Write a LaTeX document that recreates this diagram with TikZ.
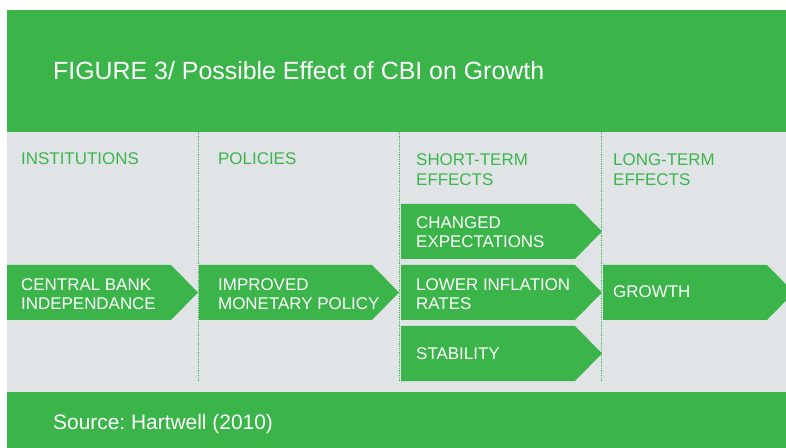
\documentclass[tikz,border=0pt]{standalone}
\usepackage{fontspec}
\setmainfont{Liberation Sans}
\frenchspacing
\definecolor{cbgreen}{HTML}{3BB54A}
\definecolor{panelgray}{HTML}{E1E4E7}
\definecolor{rulegreen}{HTML}{4DBA5B}

\begin{document}
\begin{tikzpicture}[
  x=1bp, y=-1bp,
  flowtext/.style={anchor=base west, inner sep=0pt, text=white, align=left,
    font=\fontsize{17}{20}\selectfont},
  headtext/.style={flowtext, text=cbgreen, font=\fontsize{17}{21}\selectfont},
  colrule/.style={rulegreen, line width=0.9bp, dash pattern=on 0.9bp off 0.9bp},
]

\useasboundingbox (0,0) rectangle (786,448);
\clip (0,0) rectangle (786,448);

% Background bands
\fill[white] (0,0) rectangle (786,448);
\fill[cbgreen] (7,10) rectangle (786,132);
\fill[panelgray] (7,132) rectangle (786,392);
\fill[cbgreen] (7,392) rectangle (786,448);

% Title and source
\node[flowtext, font=\fontsize{25}{30}\selectfont] (title) at (53,80)
  {FIGURE 3/ Possible Effect of CBI on Growth};
\node[flowtext, font=\fontsize{21}{25}\selectfont] (source) at (53,429.5)
  {Source: Hartwell (2010)};

% ========================================
% Column rules and headings
% (base anchor sits on the last line)
% ========================================
\foreach \xr in {198.5, 399.5, 601.5}
  \draw[colrule] (\xr,132) -- (\xr,382);

\node[headtext] (institutions) at (21,165) {INSTITUTIONS};
\node[headtext] (policies) at (218,165) {POLICIES};
\node[headtext] (shortterm) at (416,186) {SHORT-TERM\\EFFECTS};
\node[headtext] (longterm) at (613,186) {LONG-TERM\\EFFECTS};

% ========================================
% Arrow boxes
% ========================================
\foreach \xa/\xb/\ya/\yb in {7/198/265/320, 199/399/265/320,
    401/602/204/259, 401/602/265/320, 401/602/326/381, 603/794/265/320}
  \fill[cbgreen] (\xa,\ya) -- (\xb-27,\ya) -- (\xb,{(\ya+\yb)/2})
    -- (\xb-27,\yb) -- (\xa,\yb) -- cycle;

\node[flowtext] (cbi) at (21,310) {CENTRAL BANK\\INDEPENDANCE};
\node[flowtext] (policy) at (218,310) {IMPROVED\\MONETARY POLICY};
\node[flowtext] (expect) at (416,248) {CHANGED\\EXPECTATIONS};
\node[flowtext] (inflation) at (416,310) {LOWER INFLATION\\RATES};
\node[flowtext] (stability) at (416,360) {STABILITY};
\node[flowtext] (growth) at (613,298) {GROWTH};

\end{tikzpicture}
\end{document}
